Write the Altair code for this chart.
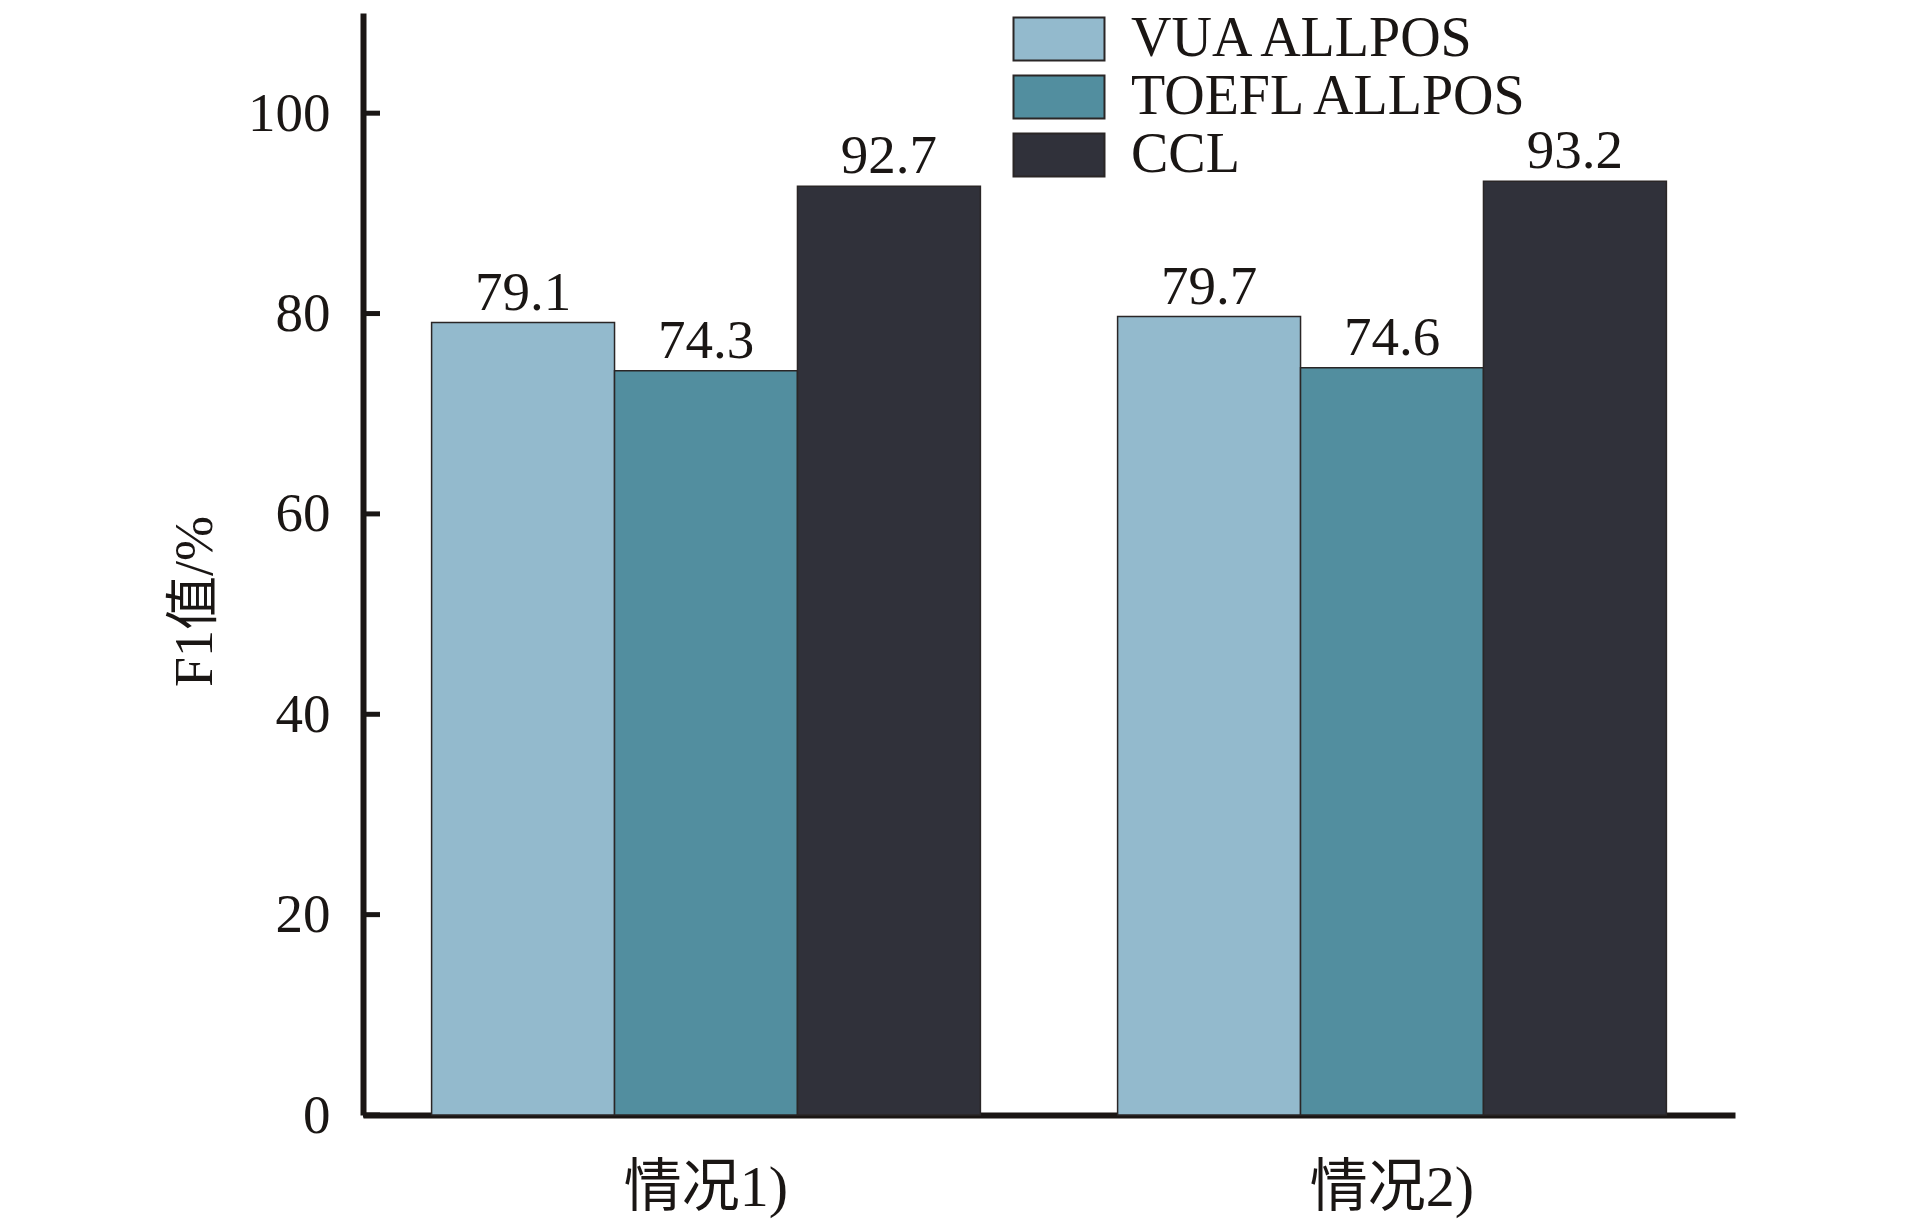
import altair as alt
import pandas as pd

groups = ["情况1)", "情况2)"]
series = ["VUA ALLPOS", "TOEFL ALLPOS", "CCL"]
values_case1 = [79.1, 74.3, 92.7]
values_case2 = [79.7, 74.6, 93.2]
colors = ["#93BACD", "#528E9F", "#30313A"]
y_ticks = [0, 20, 40, 60, 80, 100]

rows = []
for g, vals in zip(groups, [values_case1, values_case2]):
    for s, v in zip(series, vals):
        rows.append({"group": g, "series": s, "value": v, "label": f"{v:.1f}"})
df = pd.DataFrame(rows)
ticks_df = pd.DataFrame({"t": y_ticks})

NUM_FONT = "Liberation Serif"
CJK_FONT = "Liberation Serif, Noto Sans CJK SC"

x_enc = alt.X(
    "group:N",
    sort=groups,
    title=None,
    scale=alt.Scale(paddingInner=0.2, paddingOuter=0.1),
    axis=alt.Axis(
        labelAngle=0,
        labelFont=CJK_FONT,
        labelFontSize=58,
        labelColor="#1a1614",
        labelPadding=44,
        ticks=False,
        domainColor="#1a1614",
        domainWidth=6,
    ),
)
y_scale = alt.Scale(domain=[0, 110], nice=False)

bars = alt.Chart(df).mark_bar(stroke="#2a2626", strokeWidth=1.5).encode(
    x=x_enc,
    xOffset=alt.XOffset("series:N", sort=series, scale=alt.Scale(paddingInner=0, paddingOuter=0)),
    y=alt.Y(
        "value:Q",
        scale=y_scale,
        title="F1值/%",
        axis=alt.Axis(
            values=y_ticks,
            tickSize=0,
            labelFont=NUM_FONT,
            labelFontSize=55,
            labelColor="#1a1614",
            labelPadding=33,
            domainColor="#1a1614",
            domainWidth=6,
            grid=False,
            titleFont=CJK_FONT,
            titleFontSize=54,
            titleFontWeight="normal",
            titleColor="#1a1614",
            titleX=-168,
            titleY=588,
            titleAlign="center",
            titleBaseline="middle",
        ),
    ),
    color=alt.Color(
        "series:N",
        sort=series,
        scale=alt.Scale(domain=series, range=colors),
        legend=alt.Legend(
            title=None,
            orient="none",
            legendX=668,
            legendY=-2,
            symbolType="M-3.033,-1.433L3.033,-1.433L3.033,1.433L-3.033,1.433Z",
            symbolSize=900,
            symbolStrokeColor="#2a2626",
            symbolStrokeWidth=2,
            symbolOpacity=1,
            labelFont=NUM_FONT,
            labelFontSize=56,
            labelColor="#1a1614",
            labelOffset=44,
            rowPadding=2,
            padding=0,
            labelLimit=600,
        ),
    ),
)

texts = alt.Chart(df).mark_text(
    baseline="alphabetic", dy=-13, font=NUM_FONT, fontSize=55, color="#1a1614"
).encode(
    x=alt.X("group:N", sort=groups),
    xOffset=alt.XOffset("series:N", sort=series),
    y=alt.Y("value:Q", scale=y_scale),
    text="label:N",
)

tick_rules = alt.Chart(ticks_df).mark_rule(color="#1a1614", strokeWidth=5).encode(
    x=alt.value(0),
    x2=alt.value(17),
    y=alt.Y("t:Q", scale=y_scale),
)

chart = (
    alt.layer(bars, texts, tick_rules)
    .properties(
        width=1372,
        height=1102,
        autosize=alt.AutoSizeParams(type="none"),
        padding={"left": 355, "top": 5, "right": 170, "bottom": 110},
    )
    .configure_view(stroke=None)
)

chart.save("out.html", embed_options={"renderer": "svg", "actions": False})
